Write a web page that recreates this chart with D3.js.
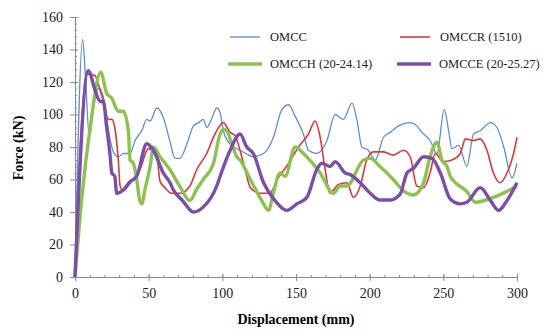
<!DOCTYPE html>
<html>
<head>
<meta charset="utf-8">
<script src="https://cdn.jsdelivr.net/npm/d3@7"></script>
<style>
body { margin: 0; background: #fff; }
svg { display: block; font-family: "Liberation Serif", "Times New Roman", serif; }
</style>
</head>
<body>
<div id="chart"></div>
<script>
// series values: [displacement mm, force kN]
var omcc = [[0,0],[5.2,146],[7,125],[9.7,86],[12,100],[14,112],[16,116],[18,111],[21,100],[24,84],[26,77],[29.4,74],[33,76],[37.4,76],[40.8,84],[45.3,90],[48.7,97],[51,96],[55.5,104],[60,98],[64,85],[68,73],[71.3,73],[76,82],[80.4,93],[84,95],[87,97],[89.4,92],[93,98],[96.2,104],[98.5,101],[100.7,90],[105,82],[112,78],[116,76],[121,74],[128,76],[134.7,86],[140.4,103],[145,106],[149.4,99],[155,88],[158.5,78],[164,76],[171,84],[176.6,100],[182.2,97],[188,107],[191.3,97],[194.7,80],[199,78],[203.8,72],[209.4,86],[214,89],[219.6,93],[227.5,95],[232,93],[235.5,89],[241,84],[245.7,76],[250.6,103],[253.6,90],[255.8,79],[260.4,81],[266,68],[270.5,88],[275,90],[282,95],[286.4,92],[291,80],[296.6,61],[300,70]];
var omccr = [[0,0],[8,125],[13.6,124],[16,118],[19,111],[22.6,97],[25,97],[27,92],[29.4,72],[30.6,56],[32.8,53],[37.4,58],[44,66],[49.8,79],[55.5,74],[57.7,59],[61,55],[65.7,51.5],[71.3,51.5],[78,56],[82.6,66],[89.4,76],[95,88],[100.7,95],[105.3,89],[108.7,87],[112,78],[115.5,66],[119,55],[125.6,51.5],[132,51.5],[138,61],[145,70],[151.7,80],[158.5,88],[163,96],[166.4,86],[169.8,66],[173,51.5],[178.8,57],[184.5,58],[189,49],[193.6,56],[198,72],[202.6,77],[209.4,77],[216,75],[223,78],[227.5,74],[232,56],[236.6,55],[241,64],[244.5,76],[250,71],[255.8,72],[261.5,76],[265,85],[270.5,84],[275,85],[279.6,78],[284,64],[288.7,58],[293.2,64],[297.7,76],[300,86]];
var omcch = [[0,0],[5,52],[10,90],[17.5,126],[21.5,113],[25,110],[29.4,102],[32.8,102],[36.2,90],[37.4,72],[39.6,70],[41.9,60],[44,47],[45.3,45],[47.5,54],[51,68],[53.2,80],[57.7,74],[64.5,66],[71,56],[78,47],[82.6,54],[87,60],[94,70],[98.5,88],[100.7,91],[103,90],[106.4,82],[109.8,74],[112,72],[119,60],[126.8,47],[131.3,41],[134.7,52],[139.2,64],[142.6,62],[149.4,80],[155,76],[166.4,64],[175.4,51.5],[180,56],[184.5,56],[195.8,72],[200.4,73],[207,68],[216,60],[223,53],[229.8,50.5],[236.6,58],[241,74],[245.7,83],[249,72],[252.5,68],[254.7,62],[266,52.5],[271.7,46],[284,49],[300,56]];
var omcce = [[0,0],[9,127],[13.6,115],[17,108],[19.2,108],[21.5,92],[23.8,75],[25,64],[27,62],[28.3,51.5],[32.8,53.5],[37.4,58.6],[41.9,62],[48.7,82],[53.2,78],[60,64],[64.5,58],[66.8,53.5],[73,47],[80.4,40],[87,43],[96.2,56],[98.5,62],[105.3,78],[112,88],[116.6,80],[121,76],[128,58],[135.8,47],[143.8,41],[150.6,45],[157.4,49],[164,66],[167.6,70],[173.2,68],[176.6,71],[183.4,64],[186.8,63],[193.6,58],[200.4,51.5],[207,47.4],[214,47.4],[220.7,51],[225.3,64],[229.8,67],[236.6,74],[242.3,73],[248,64],[254.7,48],[261.5,45],[266,46],[275,55],[282,47],[287.5,41],[293.2,47],[300,58]];

var seriesNames = ["OMCC", "OMCCR (1510)", "OMCCH (20-24.14)", "OMCCE (20-25.27)"];
var xTicks = [0, 50, 100, 150, 200, 250, 300];
var yTicks = [0, 20, 40, 60, 80, 100, 120, 140, 160];

var width = 555, height = 330;

var svg = d3.select("#chart")
	.append("svg")
	.attr("width", width)
	.attr("height", height);

var x = d3.scaleLinear().domain([0, 300]).range([75, 517]);
var y = d3.scaleLinear().domain([0, 160]).range([277, 17]);

var axisColor = "#8a8a8a";

// minor ticks
svg.append("g")
	.attr("transform", "translate(0,277)")
	.call(d3.axisBottom(x).tickValues(d3.range(0, 301, 10)).tickSize(3).tickFormat(""))
	.call(g => g.selectAll("line").attr("stroke", axisColor).attr("y1", -2).attr("y2", 0))
	.call(g => g.select(".domain").remove());
svg.append("g")
	.attr("transform", "translate(75,0)")
	.call(d3.axisLeft(y).tickValues(d3.range(0, 161, 4)).tickSize(3).tickFormat(""))
	.call(g => g.selectAll("line").attr("stroke", axisColor).attr("x1", 0).attr("x2", 2))
	.call(g => g.select(".domain").remove());

// major axes
var xAxis = svg.append("g")
	.attr("transform", "translate(0,277)")
	.call(d3.axisBottom(x).tickValues(xTicks).tickSize(4).tickSizeOuter(0));
xAxis.selectAll("line").attr("stroke", axisColor).attr("y1", -3);
xAxis.select(".domain").attr("stroke", axisColor);
xAxis.selectAll("text").attr("font-size", 14).attr("fill", "#222").attr("dy", "1.0em")
	.style("font-family", "Liberation Serif");

var yAxis = svg.append("g")
	.attr("transform", "translate(75,0)")
	.call(d3.axisLeft(y).tickValues(yTicks).tickSize(5).tickSizeOuter(0));
yAxis.selectAll("line").attr("stroke", axisColor).attr("x1", 3);
yAxis.select(".domain").attr("stroke", axisColor);
yAxis.selectAll("text").attr("font-size", 14).attr("fill", "#222").attr("x", -12)
	.style("font-family", "Liberation Serif");

svg.append("text")
	.attr("text-anchor", "middle")
	.attr("x", 296)
	.attr("y", 324)
	.attr("font-size", 14)
	.attr("font-weight", "bold")
	.text("Displacement (mm)");

svg.append("text")
	.attr("text-anchor", "middle")
	.attr("transform", "translate(23,148) rotate(-90)")
	.attr("font-size", 14)
	.attr("font-weight", "bold")
	.text("Force (kN)");

// lines
var line = d3.line()
	.x(d => x(d[0]))
	.y(d => y(d[1]))
	.curve(d3.curveMonotoneX);

var series = [
	{name: seriesNames[0], data: omcc, color: "#5b8ed4", w: 1.3},
	{name: seriesNames[1], data: omccr, color: "#d9393b", w: 1.6},
	{name: seriesNames[2], data: omcch, color: "#8dc152", w: 3.4},
	{name: seriesNames[3], data: omcce, color: "#7a4fa6", w: 3.4}
];

svg.selectAll("path.series")
	.data(series)
	.enter()
	.append("path")
	.attr("class", "series")
	.attr("fill", "none")
	.attr("stroke", d => d.color)
	.attr("stroke-width", d => d.w)
	.attr("stroke-linejoin", "round")
	.attr("d", d => line(d.data));

// legend
var legendPos = [[230, 37], [400, 37], [228, 64], [397, 64]];
var lg = svg.selectAll("g.legend")
	.data(series)
	.enter()
	.append("g")
	.attr("class", "legend")
	.attr("transform", (d, i) => "translate(" + legendPos[i][0] + "," + legendPos[i][1] + ")");
lg.append("line")
	.attr("x1", 0).attr("x2", (d, i) => i < 2 ? 30 : 34)
	.attr("stroke", d => d.color)
	.attr("stroke-width", d => d.w);
lg.append("text")
	.attr("x", (d, i) => i < 2 ? 40 : 42)
	.attr("dy", "0.35em")
	.attr("font-size", 12.5)
	.attr("fill", "#222")
	.text(d => d.name);
</script>
</body>
</html>
